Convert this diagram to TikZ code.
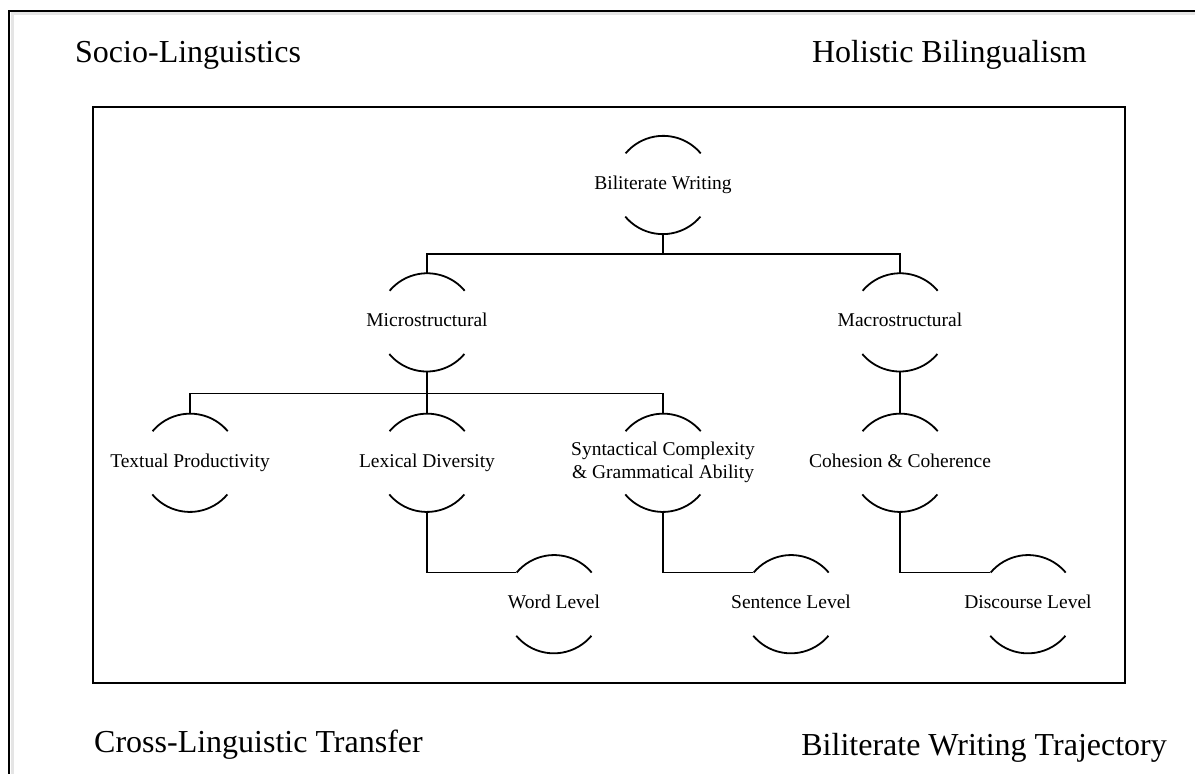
\documentclass[tikz,border=0pt]{standalone}
\usepackage{fontspec}
\setmainfont{Liberation Serif}
\usetikzlibrary{positioning}

\newcommand{\arctext}[1]{\makebox[0pt]{\begin{tabular}{@{}c@{}}#1\end{tabular}}}

\begin{document}
\begin{tikzpicture}[x=1pt,y=1pt,
    arcnode/.style={circle, minimum size=98pt, inner sep=0pt, font=\fontsize{19.5}{23}\selectfont},
    arcline/.style={line width=1.8pt},
    link/.style={line width=1.8pt},
    theme/.style={font=\fontsize{32}{38}\selectfont, inner sep=0pt}]
    \useasboundingbox (0,0) rectangle (1195,774);
    % Frames
    \draw[black!10, line width=3pt] (12,-10) |- (1210,760);
    \draw[line width=2pt] (9,-10) |- (1210,763);
    \draw[line width=1.8pt] (93,91) rectangle (1125,667);

    % Themes
    \node[theme, anchor=base west] (socio) at (75,711) {Socio-Linguistics};
    \node[theme, anchor=base east] (holistic) at (1087,711) {Holistic Bilingualism};
    \node[theme, anchor=base west] (transfer) at (94,21) {Cross-Linguistic Transfer};
    \node[theme, anchor=base east] (trajectory) at (1167,18) {Biliterate Writing Trajectory};

    % Nodes
    \node[arcnode] (writing) at (663,589) {\arctext{Biliterate Writing}};
    \node[arcnode, below=39pt of writing, xshift=-236pt] (micro) {\arctext{Microstructural}};
    \node[arcnode, below=39pt of writing, xshift=237pt] (macro) {\arctext{Macrostructural}};

    \node[arcnode, below=42pt of micro, xshift=-237pt] (textual) {\arctext{Textual Productivity}};
    \node[arcnode, below=42pt of micro] (lexical) {\arctext{Lexical Diversity}};
    \node[arcnode, below=42pt of micro, xshift=236pt] (syntax) {\arctext{Syntactical Complexity\\ \& Grammatical Ability}};
    \node[arcnode, below=42pt of macro] (cohesion) {\arctext{Cohesion \& Coherence}};

    \node[arcnode, below=43pt of lexical, xshift=127pt] (word) {\arctext{Word Level}};
    \node[arcnode, below=43pt of syntax, xshift=128pt] (sentence) {\arctext{Sentence Level}};
    \node[arcnode, below=43pt of cohesion, xshift=128pt] (discourse) {\arctext{Discourse Level}};

    % Arcs
    \foreach \n in {writing,micro,macro,textual,lexical,syntax,cohesion,word,sentence,discourse}{
        \draw[arcline] (\n.40) arc[start angle=40, end angle=140, radius=49pt];
        \draw[arcline] (\n.220) arc[start angle=220, end angle=320, radius=49pt];
    }

    % Links
    \draw[link] (writing.south) -- ++(0,-20) -| (micro.north);
    \draw[link] (writing.south) -- ++(0,-20) -| (macro.north);
    \draw[link] (micro.south) -- ++(0,-22) -| (textual.north);
    \draw[link] (micro.south) -- ++(0,-22) -| (lexical.north);
    \draw[link] (micro.south) -- ++(0,-22) -| (syntax.north);
    \draw[link] (macro.south) -- (cohesion.north);
    \draw[link] (lexical.south) |- (word.140);
    \draw[link] (syntax.south) |- (sentence.140);
    \draw[link] (cohesion.south) |- (discourse.140);
\end{tikzpicture}
\end{document}
